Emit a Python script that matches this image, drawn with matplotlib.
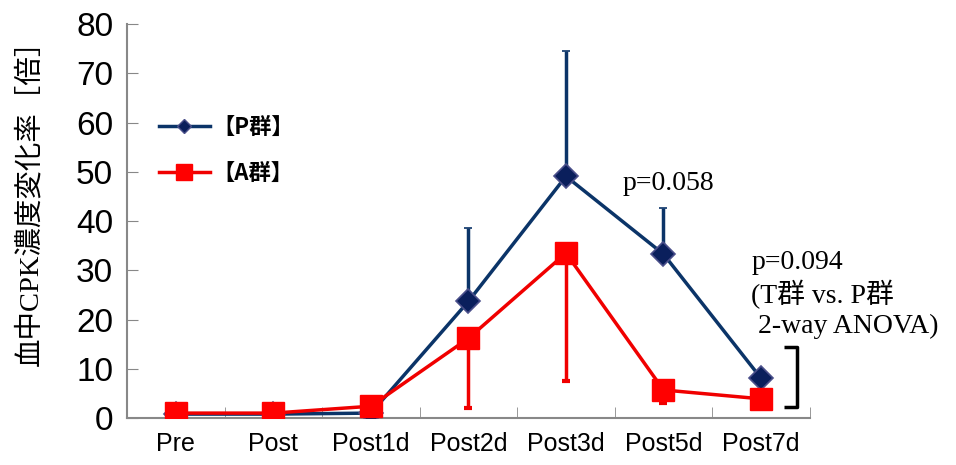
import matplotlib
matplotlib.use("Agg")
import matplotlib.pyplot as plt
from matplotlib.lines import Line2D
import numpy as np

categories = ["Pre", "Post", "Post1d", "Post2d", "Post3d", "Post5d", "Post7d"]
p_values = [0.8, 0.8, 1.0, 23.7, 49.1, 33.3, 8.1]
p_err_upper = [0, 0, 0, 14.9, 25.4, 9.3, 0]
a_values = [1.0, 1.0, 2.4, 16.2, 33.5, 5.7, 3.9]
a_err_lower = [0, 0, 0, 14.2, 26.0, 2.7, 0]
yticks = [0, 10, 20, 30, 40, 50, 60, 70, 80]

navy = "#0b3468"
red = "#f00000"

fig = plt.figure(figsize=(9.56, 4.65), dpi=100)
ax = fig.add_axes([0.133, 0.101, 0.714, 0.847])

x = np.arange(len(categories))
ax.errorbar(x, p_values, yerr=[np.zeros(len(x)), p_err_upper], color=navy, lw=2.5,
            marker="D", ms=12, mfc="#0a1f5c", mec="#4a4f8a", mew=1.2,
            ecolor=navy, elinewidth=2.5, capsize=3, capthick=3, zorder=3)
ax.errorbar(x, a_values, yerr=[a_err_lower, np.zeros(len(x))], color=red, lw=2.5,
            marker="s", ms=16, mfc="#ff0000", mec="#ff0000",
            ecolor=red, elinewidth=2.5, capsize=3, capthick=3, zorder=4)

ax.set_xlim(-0.5, len(categories) - 0.5)
ax.set_ylim(0, 80)
ax.set_yticks(yticks)
ax.set_xticks(x)
ax.set_xticklabels(categories, fontfamily="Liberation Sans", fontsize=18)
ax.set_xticks(np.arange(len(categories) + 1) - 0.5, minor=True)
for lab in ax.get_yticklabels():
    lab.set_fontfamily("Liberation Sans")
    lab.set_fontsize(24)
ax.tick_params(axis="y", direction="in", length=8, color="#888888", pad=10)
ax.tick_params(axis="x", which="major", length=0, pad=10)
ax.tick_params(axis="x", which="minor", direction="in", length=8, color="#888888")
for s in ["top", "right"]:
    ax.spines[s].set_visible(False)
for s in ["left", "bottom"]:
    ax.spines[s].set_color("#888888")
    ax.spines[s].set_linewidth(1.5)

fig.text(0.031, 0.578, "血中CPK濃度変化率［倍］", family=["Liberation Serif", "Noto Sans CJK JP"],
         fontsize=20.5, rotation=90, ha="center", va="center")

handles = [
    Line2D([], [], color=navy, lw=2.5, marker="D", ms=7, mfc="#0a1f5c", mec="#4a4f8a"),
    Line2D([], [], color=red, lw=2.5, marker="s", ms=11, mfc="#ff0000", mec="#ff0000"),
]
leg = ax.legend(handles, ["【P群】", "【A群】"], loc="center left",
                bbox_to_anchor=(0.03, 0.679), frameon=False, borderpad=0,
                prop={"family": ["Noto Sans CJK JP"], "size": 16, "weight": "bold"},
                handlelength=2.3, labelspacing=1.05, handletextpad=0.1, numpoints=1)

serif = ["Liberation Serif", "Noto Sans CJK JP"]
ax.text(5.05, 47.7, "p=0.058", family=serif, fontsize=20, ha="center", va="center")
ax.text(5.9, 34.1, "p=0.094\n(T群 vs. P群\n 2-way ANOVA)", family=serif, fontsize=20,
        ha="left", va="top", linespacing=1.22)

# bracket
ax.plot([6.24, 6.37, 6.37, 6.24], [14.5, 14.5, 2.2, 2.2], color="black", lw=2.5,
        clip_on=False, solid_capstyle="butt")

fig.savefig("out.png", dpi=100)
